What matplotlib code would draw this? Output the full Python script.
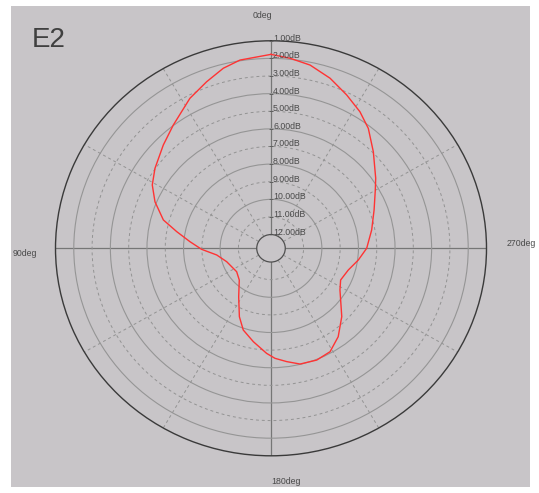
import matplotlib
matplotlib.use("Agg")
import matplotlib.pyplot as plt
import matplotlib.transforms as mtransforms
from matplotlib.patches import Rectangle
import numpy as np

# pattern E2, angle in degrees (0 = top, counter-clockwise), level in dB as on the scale
angles = [0, 9.0, 14.3, 20.4, 27.5, 37.4, 45.1, 54.4, 61.0, 67.4, 74.7, 79.6, 85.2,
          90.9, 97.3, 107.4, 125.3, 136.1, 147.3, 156.0, 161.9, 169.7, 177.7, 182.0,
          187.6, 193.6, 201.5, 208.8, 216.2, 224.9, 237.9, 244.7, 253.7, 262.1, 270.0,
          280.7, 291.1, 300.1, 304.8, 314.4, 322.0, 327.9, 334.6, 341.5, 348.4, 354.5]
levels = [1.77, 1.96, 2.23, 2.69, 3.18, 3.98, 4.47, 4.98, 5.36, 5.91, 6.68, 7.54, 8.34,
          8.99, 9.79, 10.24, 10.48, 10.28, 9.51, 8.53, 7.90, 7.39, 6.81, 6.53,
          6.29, 6.02, 5.96, 6.08, 6.56, 7.30, 8.33, 8.57, 8.38, 7.96, 7.55,
          7.18, 6.74, 6.19, 5.81, 4.95, 4.14, 3.63, 3.14, 2.60, 2.16, 1.94]

ring_values = [1, 2, 3, 4, 5, 6, 7, 8, 9, 10, 11, 12]
spoke_angles = list(range(0, 360, 30))
title = "E2"
dir_labels = ["0deg", "90deg", "180deg", "270deg"]

W, H = 539, 493
fig = plt.figure(figsize=(W / 100, H / 100), dpi=100, facecolor="white")
fig.patches.append(Rectangle((11 / W, 6 / H), 519 / W, 481 / H,
                             transform=fig.transFigure, facecolor="#c8c5c8",
                             edgecolor="none", zorder=-1))

cx, cy, a, b = 271.0, 248.3, 215.5, 207.5
ax = fig.add_axes([(cx - a) / W, (H - cy - b) / H, 2 * a / W, 2 * b / H],
                  projection="polar")
ax.set_facecolor("none")
ax.set_theta_zero_location("N")
ax.set_theta_direction(1)

th = np.deg2rad(angles + angles[:1])
lv = levels + levels[:1]
ax.plot(th, lv, color="#ff3333", lw=1.0, zorder=5)

ax.set_ylim(12, 1)
ax.set_rorigin(12.78)
ax.set_aspect("auto")

ax.set_yticks(ring_values[1:-1])
ax.set_xticks(np.deg2rad(spoke_angles))
ax.set_yticklabels([])
ax.set_xticklabels([])
ax.grid(True)
for v, gl in zip(ring_values[1:-1], ax.yaxis.get_gridlines()):
    if v % 2 == 0:
        gl.set(color="#959595", lw=0.8, ls="-")
    else:
        gl.set(color="#939393", lw=0.7, ls=(0, (3, 3)))
for ang, gl in zip(spoke_angles, ax.xaxis.get_gridlines()):
    if ang % 90 == 0:
        gl.set(color="#767676", lw=0.9, ls="-")
    else:
        gl.set(color="#939393", lw=0.7, ls=(0, (3, 3)))

ax.spines["polar"].set(color="#3a3a3a", lw=1.0)
ax.spines["inner"].set(color="#505050", lw=0.9)

small = ["Liberation Sans", "DejaVu Sans"]
fs = 6.3
off = mtransforms.offset_copy(ax.transData, fig=fig, x=2, y=2.5, units="dots")
for v in ring_values:
    ax.text(0, v, f"{v:.2f}dB", transform=off, ha="left", va="center",
            fontsize=fs, family=small, color="#4a4a4a", zorder=6)
ax.plot([0] * len(ring_values), ring_values, ls="none", marker="_", ms=3,
        mew=0.6, color="#606060", zorder=6)

fig.text(272 / W, 1 - 15 / H, dir_labels[0], ha="right", va="center",
         fontsize=fs, family=small, color="#4a4a4a")
fig.text(13 / W, 1 - 253 / H, dir_labels[1], ha="left", va="center",
         fontsize=fs, family=small, color="#4a4a4a")
fig.text(271 / W, 1 - 482 / H, dir_labels[2], ha="left", va="center",
         fontsize=fs, family=small, color="#4a4a4a")
fig.text(507 / W, 1 - 243 / H, dir_labels[3], ha="left", va="center",
         fontsize=fs, family=small, color="#4a4a4a")

fig.text(32 / W, 1 - 46.7 / H, title, ha="left", va="baseline", fontsize=20,
         family=["Liberation Sans", "DejaVu Sans"], color="#404040")

fig.savefig("out.png", dpi=100, facecolor="white")
